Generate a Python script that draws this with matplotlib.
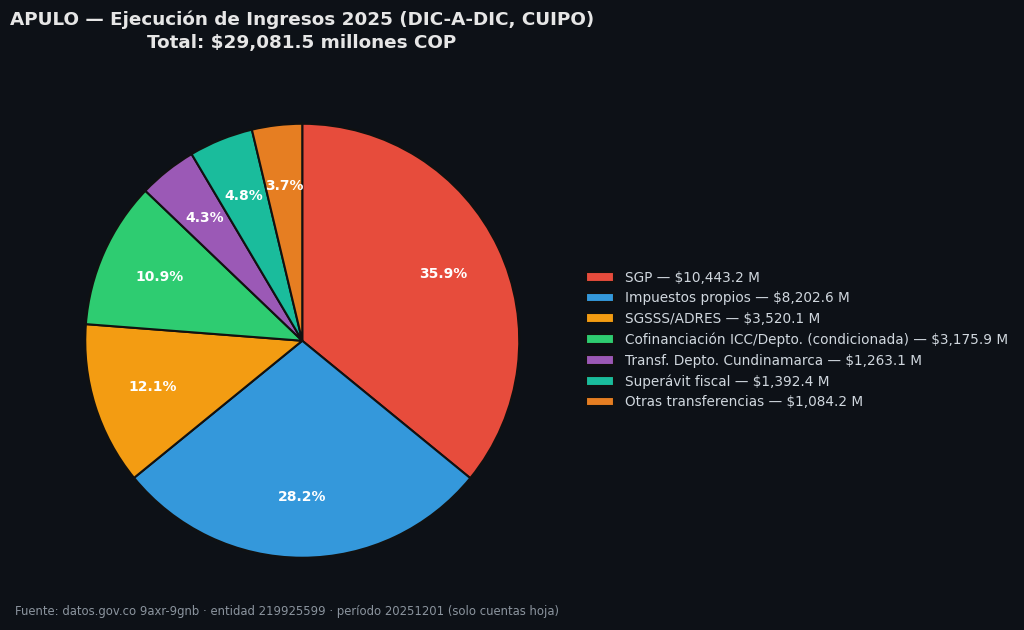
import matplotlib
matplotlib.use("Agg")
import matplotlib.pyplot as plt

labels = ["SGP", "Impuestos propios", "SGSSS/ADRES",
          "Cofinanciación ICC/Depto. (condicionada)",
          "Transf. Depto. Cundinamarca", "Superávit fiscal",
          "Otras transferencias"]
values = [10443.2, 8202.6, 3520.1, 3175.9, 1263.1, 1392.4, 1084.2]
colors = ["#e74c3c", "#3498db", "#f39c12", "#2ecc71", "#9b59b6", "#1abc9c", "#e67e22"]

bg = "#0d1117"
total = sum(values)

fig = plt.figure(figsize=(10.24, 6.3), dpi=100, facecolor=bg)
ax = fig.add_axes([31/1024, 18/630, 542.5/1024, 542.5/630])
ax.set_facecolor(bg)

wedges, texts, autotexts = ax.pie(
    values, colors=colors, startangle=90, counterclock=False,
    autopct="%1.1f%%", pctdistance=0.72,
    wedgeprops=dict(edgecolor="#111111", linewidth=1.5),
    textprops=dict(color="white", fontsize=10, fontweight="bold"))
ax.set_aspect("equal")

leg_labels = [f"{l} — ${v:,.1f} M" for l, v in zip(labels, values)]
leg = fig.legend(wedges, leg_labels, loc="center left",
                 bbox_to_anchor=(574/1024, 1 - 340/630),
                 frameon=False, fontsize=9.85, labelcolor="#d0d7de",
                 handlelength=2.0, handleheight=0.7, labelspacing=0.48)

fig.text(302/1024, 1 - 20/630,
         "APULO — Ejecución de Ingresos 2025 (DIC-A-DIC, CUIPO)",
         ha="center", va="center", fontsize=13.22, fontweight="bold", color="#e6e6e6")
fig.text(302/1024, 1 - 43/630,
         f"Total: ${total:,.1f} millones COP",
         ha="center", va="center", fontsize=13.22, fontweight="bold", color="#e6e6e6")

fig.text(15/1024, 1 - 612/630,
         "Fuente: datos.gov.co 9axr-9gnb · entidad 219925599 · período 20251201 (solo cuentas hoja)",
         ha="left", va="center", fontsize=8.35, color="#8b949e")

fig.savefig("out.png", dpi=100, facecolor=bg)
